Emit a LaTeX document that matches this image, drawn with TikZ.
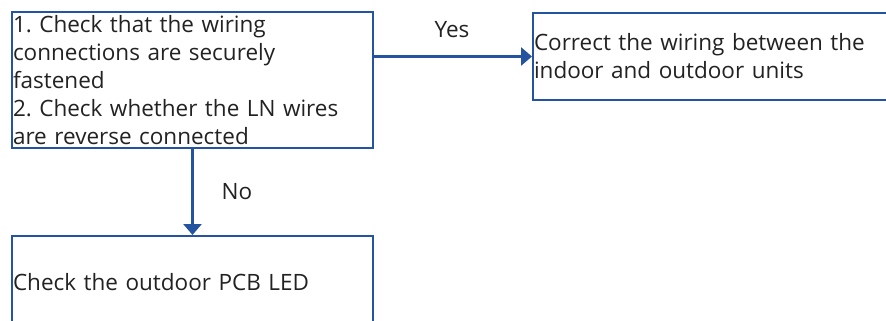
\documentclass[tikz,border=0pt]{standalone}
\usepackage{fontspec}
\setmainfont{Open Sans}
\usepackage{tikz}
\usetikzlibrary{arrows.meta}
\definecolor{flowBlue}{HTML}{2453A0}
\definecolor{flowText}{HTML}{222222}
\frenchspacing

\begin{document}
\begin{tikzpicture}[x=1pt, y=-1pt,
  stepbox/.style={draw=flowBlue, line width=2pt, inner xsep=1pt, inner ysep=0pt,
    align=left, text=flowText, font=\fontsize{22.5}{28}\selectfont, anchor=north west},
  flowarrow/.style={flowBlue, line width=3pt, -{Triangle[width=18pt, length=11pt]}},
  choice/.style={text=flowText, font=\fontsize{22.5}{28}\selectfont}]
  \useasboundingbox (0,0) rectangle (886,321);
  \node[stepbox, text width=359pt, minimum height=136pt] (wiring) at (11,11)
    {1. Check that the wiring\\connections are securely\\fastened\\2. Check whether the LN wires\\are reverse connected};
  \node[stepbox, text width=360pt, minimum height=87pt] (correct) at (532,12)
    {Correct the wiring between the\\indoor and outdoor units};
  \node[stepbox, text width=359pt, minimum height=92pt] (pcb) at (11,235)
    {Check the outdoor PCB LED};
  \draw[flowarrow] (wiring.east |- correct.west) -- (correct.west);
  \draw[flowarrow] (wiring.south) -- (pcb.north);
  \node[choice] (yes) at (452,30) {Yes};
  \node[choice] (no) at (237,192) {No};
\end{tikzpicture}
\end{document}
